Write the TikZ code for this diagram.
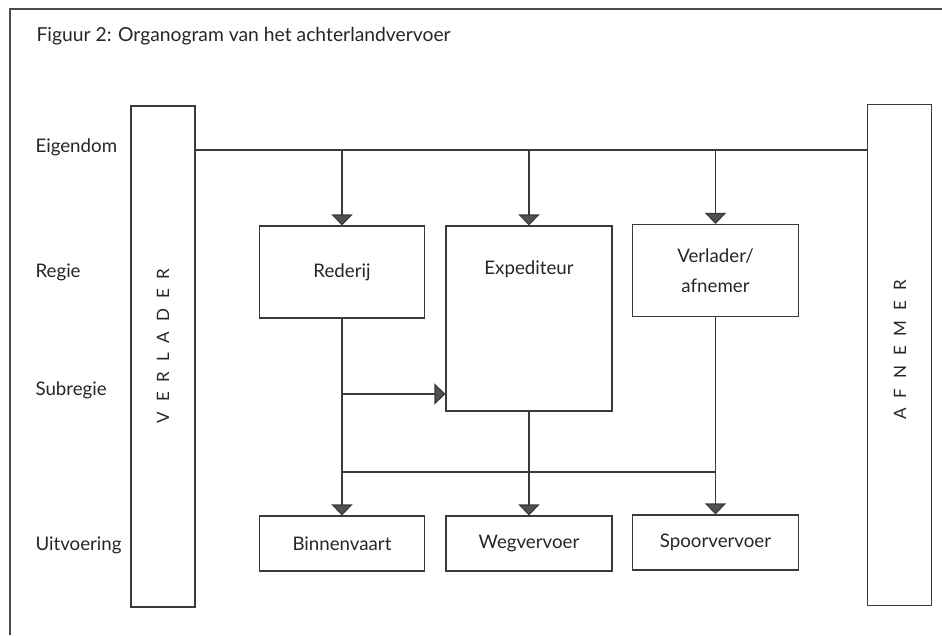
\documentclass[tikz,border=0pt]{standalone}
\usepackage{fontspec}
\setmainfont{Lato}
\usetikzlibrary{arrows.meta}
\definecolor{linegray}{HTML}{3A3A3A}
\definecolor{tipgray}{HTML}{505050}

\begin{document}
\begin{tikzpicture}[
        x=1pt, y=-1pt,
        every node/.style={font=\fontsize{18.7}{30}\selectfont, text=black!85},
        con/.style={draw=linegray, line width=1.1pt},
        box/.style={con, inner sep=0pt},
        bar/.style={box, minimum width=64pt, minimum height=501pt},
        topbox/.style={box, minimum width=165pt, minimum height=92pt, align=center},
        botbox/.style={box, minimum width=165pt, minimum height=55pt},
        arr/.style={con, -{Triangle[width=21pt, length=11pt, fill=tipgray]}},
        spaced/.style={rotate=90, font=\fontsize{17}{20}\selectfont\addfontfeature{LetterSpace=58}},
    ]
    \useasboundingbox (0,0) rectangle (942,635);
    % frame and title
    \draw[con, draw=black!70] (10,635) -- (10,9) -- (942,9);
    \node[anchor=base west, font=\fontsize{19.3}{24}\selectfont] (title) at (33,41)
        {Figuur 2: Organogram van het achterlandvervoer};

    % row labels
    \foreach \name/\y/\txt in {own/147/Eigendom, reg/272/Regie, sub/390/Subregie, exe/545/Uitvoering}
        \node[anchor=west] (row\name) at (32,\y) {\txt};

    % side bars
    \node[bar] (verlader) at (163,356.5) {};
    \node[spaced] (verladertext) at (163,346) {VERLADER};
    \node[bar] (afnemer) at (899.5,355) {};
    \node[spaced] (afnemertext) at (900,350) {AFNEMER};

    % boxes
    \node[topbox] (rederij) at (342,272) {Rederij};
    \node[box, minimum width=166pt, minimum height=185pt,
        label={[anchor=center, yshift=-44pt]north:Expediteur}] (expediteur) at (529,318.5) {};
    \node[topbox, minimum width=166pt] (verlafn) at (715.5,270.5) {Verlader/\\afnemer};
    \node[botbox] (binnenvaart) at (342,543.5) {Binnenvaart};
    \node[botbox, minimum width=166pt] (wegvervoer) at (529,543.5) {Wegvervoer};
    \node[botbox, minimum width=166pt] (spoorvervoer) at (715.5,542.5) {Spoorvervoer};

    % connectors
    \coordinate (own) at (0,150);
    \coordinate (subr) at (0,394);
    \coordinate (bus) at (0,472);
    \draw[con] (verlader.east |- own) -- (afnemer.west |- own);
    \foreach \n in {rederij, expediteur, verlafn}
        \draw[arr] (\n.north |- own) -- (\n.north);
    \draw[arr] (rederij.south |- subr) -- (expediteur.west |- subr);
    \draw[arr] (rederij.south) -- (binnenvaart.north);
    \draw[arr] (expediteur.south) -- (wegvervoer.north);
    \draw[arr] (verlafn.south) -- (spoorvervoer.north);
    \draw[con] (rederij.south |- bus) -- (verlafn.south |- bus);
\end{tikzpicture}
\end{document}
